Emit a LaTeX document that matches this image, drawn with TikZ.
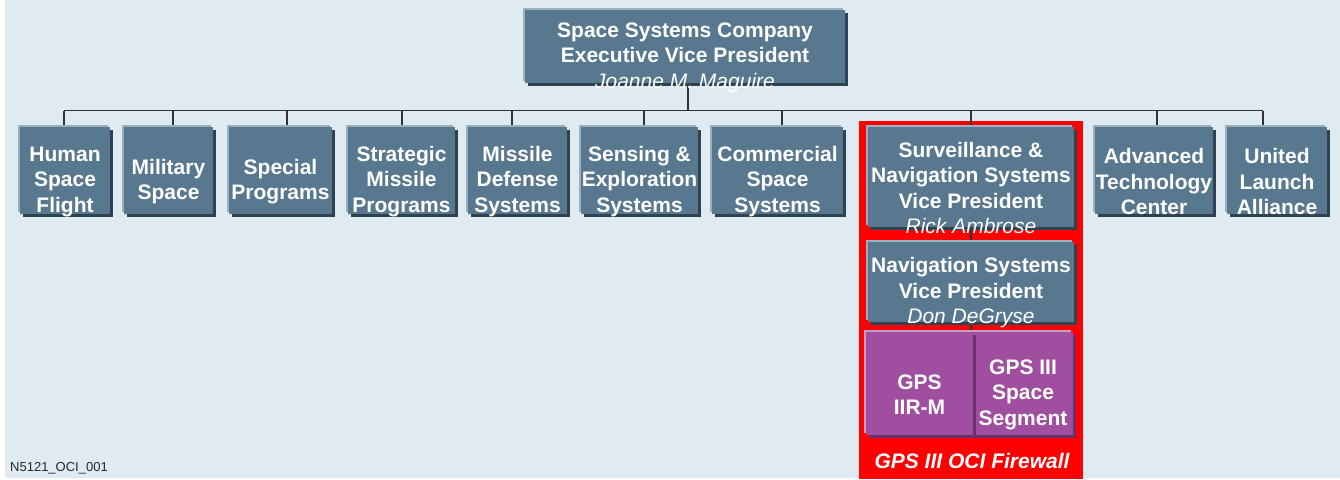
\documentclass[tikz,border=0pt]{standalone}
\usepackage{fontspec}
\setmainfont{Liberation Sans}
\usetikzlibrary{positioning,shadows,backgrounds}
\definecolor{bgblue}{HTML}{DFEBF1}
\definecolor{boxblue}{HTML}{587890}
\definecolor{boxlite}{HTML}{9BB0BF}
\definecolor{boxdark}{HTML}{2E4252}
\definecolor{gpsfill}{HTML}{A04FA0}
\definecolor{gpslite}{HTML}{C99BC9}
\definecolor{gpsdark}{HTML}{6B2F6B}
\definecolor{fwred}{HTML}{FF0000}
\newcommand{\vpname}[1]{{\mdseries\itshape #1}}
\tikzset{
  unit/.style={fill=boxblue, minimum height=87pt, inner sep=0pt,
    general shadow={fill=boxdark, shadow xshift=3pt, shadow yshift=-3pt},
    general shadow={fill=boxlite, shadow xshift=-2.5pt, shadow yshift=2.5pt}},
  gps/.style={fill=gpsfill, minimum height=103pt, inner sep=0pt,
    general shadow={fill=gpsdark, shadow xshift=3pt, shadow yshift=-3pt},
    general shadow={fill=gpslite, shadow xshift=-2.5pt, shadow yshift=2.5pt}},
  words/.style={text=white, align=center, font=\fontsize{21}{25.5}\selectfont\bfseries},
  says/.style={label={[words, yshift=-11pt]center:#1}},
  linea/.style={draw=black!80, line width=1.2pt}
}
\begin{document}
\begin{tikzpicture}[x=1pt,y=-1pt]
\useasboundingbox (0,0) rectangle (1340,479);
\node (raiz) [unit, minimum width=320pt, minimum height=73pt,
  says={Space Systems Company\\Executive Vice President\\\vpname{Joanne M. Maguire}}] at (685,46.5) {}; % root
\node (hijo1) [unit, minimum width=90pt, says={Human\\Space\\Flight}] at (65,170.5) {};
\node (hijo2) [unit, minimum width=89pt, node distance=103.5pt, right of=hijo1, says={Military\\Space}] {};
\node (hijo3) [unit, minimum width=103pt, node distance=112pt, right of=hijo2, says={Special\\Programs}] {};
\node (hijo4) [unit, minimum width=107pt, node distance=121pt, right of=hijo3, says={Strategic\\Missile\\Programs}] {};
\node (hijo5) [unit, minimum width=99pt, node distance=116pt, right of=hijo4, says={Missile\\Defense\\Systems}] {};
\node (hijo6) [unit, minimum width=117pt, node distance=122pt, right of=hijo5, says={Sensing \&\\Exploration\\Systems}] {};
\node (hijo7) [unit, minimum width=131pt, node distance=138pt, right of=hijo6, says={Commercial\\Space\\Systems}] {};
\node (hijo8) [unit, minimum width=206pt, minimum height=100pt, node distance=193.5pt, right of=hijo7, yshift=-6.5pt,
  says={Surveillance \&\\Navigation Systems\\Vice President\\\vpname{Rick Ambrose}}] {};
\node (hijo9) [unit, minimum width=118pt, node distance=183pt, right of=hijo8, yshift=6.5pt, says={Advanced\\Technology\\Center}] {};
\node (hijo10) [unit, minimum width=100pt, node distance=123pt, right of=hijo9, says={United\\Launch\\Alliance}] {};

\node (nieto1) [unit, minimum width=206pt, minimum height=80pt, node distance=105pt, below of=hijo8,
  says={Navigation Systems\\Vice President\\\vpname{Don DeGryse}}] {};
\node (bisnieto2) [gps, minimum width=100pt, says={GPS III\\Space\\Segment}] at (1023,383.5) {};
\node (bisnieto1) [gps, minimum width=107pt, node distance=103.5pt, left of=bisnieto2, says={GPS\\IIR-M}] {};

\node (muro) [words, font=\fontsize{21}{25.5}\selectfont\bfseries\itshape] at (972,461) {GPS III OCI Firewall};
\node (codigo) [anchor=west, inner sep=0pt, text=black!85, font=\fontsize{13}{15}\selectfont] at (10,468) {N5121\_OCI\_001};

\begin{pgfonlayer}{background}
\fill[bgblue] (5,0) rectangle (1340,478);
\fill[fwred] (859,121) rectangle (1083,479);
\coordinate (barra) at (688,110.5);
\draw[linea] ([xshift=3pt]raiz.south) -- (barra);
\draw[linea] ([xshift=-1pt]hijo1.north |- barra) -- ([xshift=-14pt]hijo10.north |- barra);
\foreach \h/\d in {1/-1, 2/4.5, 3/6.5, 4/0.5, 5/-5.5, 6/4.5, 7/4.5, 8/0, 9/3, 10/-14}
  \draw[linea] ([xshift=\d pt]hijo\h.north) -- ([xshift=\d pt]hijo\h.north |- barra);
\draw[linea] (hijo8.south) -- (nieto1.north);
\draw[linea] (nieto1.south) -- (nieto1.south |- bisnieto1.north);
\end{pgfonlayer}
\end{tikzpicture}
\end{document}
